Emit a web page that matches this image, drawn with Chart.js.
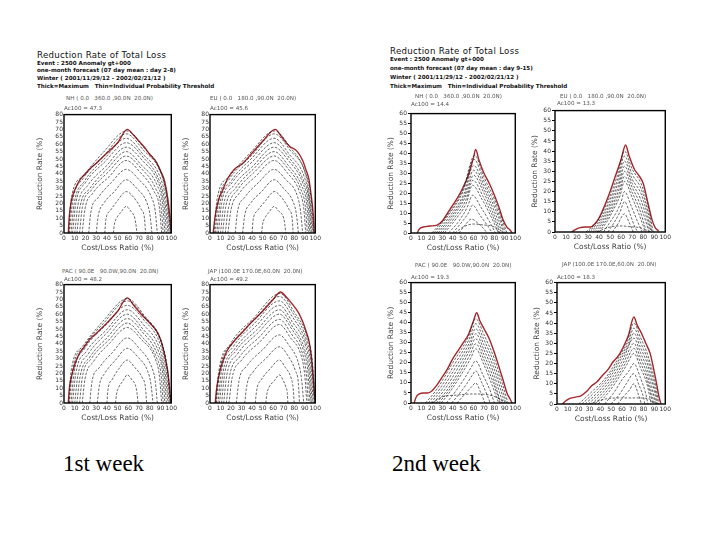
<!DOCTYPE html>
<html><head><meta charset="utf-8">
<script src="https://cdn.jsdelivr.net/npm/chart.js@4.4.1/dist/chart.umd.min.js"></script>
<style>
html,body{margin:0;padding:0;background:#fff;}
body{width:720px;height:540px;position:relative;overflow:hidden;font-family:'DejaVu Sans',sans-serif;}
.t{position:absolute;white-space:pre;line-height:1;transform:translateY(-50%);}
.h1{font-size:8.6px;color:#111;letter-spacing:0.3px;}
.h2{font-size:5.6px;font-weight:bold;color:#111;}
.pl{font-size:5.6px;color:#555;}
.wk{font-family:'Liberation Serif',serif;font-size:23px;color:#000;transform:none;}
canvas{position:absolute;}
</style></head><body>
<script>
// ---------- tick labels ----------
const xTicks = [0,10,20,30,40,50,60,70,80,90,100];
const yTicksWeek1 = [0,5,10,15,20,25,30,35,40,45,50,55,60,65,70,75,80];
const yTicksWeek2 = [0,5,10,15,20,25,30,35,40,45,50,55,60];

// ---------- week 1 : NH ----------
const nh1Max = [[4,0],[5,12],[7,22],[10,29],[15,36],[20,40],[25,44],[30,47],[40,54],[50,61],[59,70],[65,66],[70,62],[75,58],[80,53],[85,49],[90,42],[93,37],[95,31],[97,22],[99,9],[100,0]];
const nh1E1 = [[4.5,0],[6.5,22],[17,38],[36,54],[58.5,69],[74,58],[91,40],[96,24],[99.5,0]];
const nh1C1 = [[5,0],[8,21],[18,37],[37,52],[58,67],[74,56],[91,39],[96,23],[99,0]];
const nh1E2 = [[6.5,0],[9.5,20],[19,35],[37.5,50],[58,64],[74,53],[90,37],[95,22],[98,0]];
const nh1C2 = [[8,0],[11,20],[20,34],[38,48],[58,61],[74,51],[89,35],[94,21],[97,0]];
const nh1E3 = [[10,0],[13,19],[22,32],[39,45],[58,58],[73,49],[88,34],[93,20],[95.5,0]];
const nh1C3 = [[12,0],[15,18],[24,30],[40,43],[58,55],[72,46],[87,32],[92,19],[94,0]];
const nh1E4 = [[14.5,0],[17,17],[25.5,29],[41,41],[58,52],[71.5,44],[85.5,30],[90.5,18],[92.5,0]];
const nh1C4 = [[17,0],[19.5,16],[27,27],[42,38],[58,49],[71,41],[84,28],[89,17],[91,0]];
const nh1C5 = [[23,0],[25,14],[32,24],[44,34],[58,43],[70,36],[81,25],[85,15],[87,0]];
const nh1C6 = [[30,0],[32,12],[37,20],[47,28],[58,36],[68,30],[77,21],[80,13],[82,0]];
const nh1C7 = [[38,0],[39,9],[43,15],[50,22],[58,28],[65,24],[72,16],[75,10],[76,0]];
const nh1C8 = [[46,0],[47,6],[49,10],[53,14],[58,18],[62,15],[66,10],[67,6],[68,0]];

// ---------- week 1 : EU ----------
const eu1Max = [[3,0],[5,12],[8,22],[12,29],[17,37],[23,43],[31,47],[40,54],[50,62],[62,70],[68,65],[75,59],[83,55],[88,49],[91,43],[94,36],[96,26],[98,13],[99,0]];
const eu1E1 = [[4,0],[6.5,22],[18,38],[38,54],[61.5,69],[76,58],[91,40],[96,24],[98.5,0]];
const eu1C1 = [[5,0],[8,21],[19,37],[39,52],[61,67],[76,56],[91,39],[95,23],[98,0]];
const eu1E2 = [[6.5,0],[9.5,20],[20,35],[39,50],[61,64],[75.5,53],[90,37],[94.5,22],[97,0]];
const eu1C2 = [[8,0],[11,20],[21,34],[40,48],[61,61],[75,51],[89,35],[94,21],[96,0]];
const eu1E3 = [[10,0],[13,19],[22.5,32],[40.5,45],[61,58],[74.5,49],[88,34],[93,20],[95,0]];
const eu1C3 = [[12,0],[15,18],[24,30],[41,43],[61,55],[74,46],[87,32],[92,19],[94,0]];
const eu1E4 = [[14.5,0],[17.5,17],[26,29],[42,41],[61,52],[73.5,44],[86,30],[90.5,18],[92.5,0]];
const eu1C4 = [[17,0],[20,16],[28,27],[43,38],[61,49],[73,41],[85,28],[89,17],[91,0]];
const eu1C5 = [[24,0],[26,14],[33,24],[46,34],[61,43],[72,36],[83,25],[86,15],[88,0]];
const eu1C6 = [[31,0],[33,12],[38.5,20],[49,28],[61,36],[70,30],[79,21],[82,13],[84,0]];
const eu1C7 = [[40,0],[41,9],[45,15],[53,22],[61,28],[68,24],[75,16],[78,10],[79,0]];
const eu1C8 = [[49,0],[50,6],[52,10],[56,14],[61,18],[65,15],[70,10],[71,6],[72,0]];

// ---------- week 1 : PAC ----------
const pac1Max = [[4,0],[5,10],[7,18],[10,26],[14,33],[19,38],[24,43],[30,47],[40,54],[50,62],[59,71],[65,66],[72,60],[80,54],[86,49],[90,43],[93,35],[95,28],[97,20],[99,5],[99.5,0]];
const pac1E1 = [[4.5,0],[6.5,21],[17,38],[36,55],[59,70.5],[75,59],[91,41],[96,25],[99.5,0]];
const pac1C1 = [[5,0],[8,22],[18.5,38],[37,54],[59,69],[75,58],[91,40],[96,24],[99,0]];
const pac1E2 = [[6.5,0],[9.5,21],[19.5,37],[38,52],[59,66],[74.5,56],[90,39],[95,23],[98,0]];
const pac1C2 = [[8,0],[11,20],[21,35],[39,49],[59,63],[74,53],[89,37],[94,22],[97,0]];
const pac1E3 = [[10,0],[13,19],[22.5,33],[39.5,47],[59,60],[73.5,50],[88,35],[93,21],[95.5,0]];
const pac1C3 = [[12,0],[15,18],[24,31],[40,44],[59,57],[73,48],[87,33],[92,20],[94,0]];
const pac1E4 = [[14.5,0],[17,17],[25.5,30],[41,42],[59,54],[72.5,45],[86,31],[90.5,19],[92.5,0]];
const pac1C4 = [[17,0],[19.5,16],[27.5,28],[42,40],[59,51],[72,43],[85,30],[89,18],[91,0]];
const pac1C5 = [[24,0],[26,14],[33,24],[45,34],[59,44],[70,37],[81,25.5],[85,15],[87,0]];
const pac1C6 = [[31,0],[33,12],[38,20],[48,29],[59,37],[69,31],[78,21.5],[81,13],[83,0]];
const pac1C7 = [[40,0],[41,9],[45,16],[51,23],[59,29],[66,24],[73,17],[76,10],[77,0]];
const pac1C8 = [[48,0],[49,6],[51,10.5],[55,15],[59,19],[63,16],[67,11],[68,7],[69,0]];

// ---------- week 1 : JAP ----------
const jap1Max = [[5,0],[6,8],[8,17],[12,28],[16,35],[22,41],[31,48],[40,55],[50,62],[60,70],[67,75],[72,72],[78,67],[84,61],[88,55],[91,49],[94,42],[96,33],[98,18],[99,8],[100,0]];
const jap1E1 = [[5.5,0],[8,20],[19.5,40],[41,57],[66.5,74],[79.5,62],[93,43],[97.5,26],[99.5,0]];
const jap1C1 = [[6,0],[9.6,23],[21,40],[42,56],[66,72],[79,60.5],[92,42],[96.7,25],[99,0]];
const jap1E2 = [[7.5,0],[11,22],[22,38],[42.5,54],[66,69],[78.5,58],[91.5,40],[96,24],[98,0]];
const jap1C2 = [[9,0],[12.4,21],[23,36],[43,51.5],[66,66],[78,55],[91,38],[95,23],[97,0]];
const jap1E3 = [[11,0],[14,20],[24.5,35],[44,49],[66,63],[78,52],[90,36],[94,22],[96,0]];
const jap1C3 = [[13,0],[16,19],[26,33],[45,47],[66,60],[77.6,50],[89,35],[93,21],[95,0]];
const jap1E4 = [[15.5,0],[18.5,18],[28,31],[46,44],[66,56.5],[77,47],[88,33],[91.5,20],[93.5,0]];
const jap1C4 = [[18,0],[21,17],[30,29],[47,41],[66,53],[76,44.5],[87,31],[90,19],[92,0]];
const jap1C5 = [[25,0],[27.5,15],[35,25],[50,36],[66,46],[75,39],[84,27],[87,16],[89,0]];
const jap1C6 = [[33,0],[35,12],[41,21],[53,30],[66,38],[74,32],[81,22],[84,13],[85,0]];
const jap1C7 = [[43,0],[44.4,9],[49,16],[57,23],[66,29],[71.6,24],[77,17],[79,10],[80,0]];
const jap1C8 = [[53,0],[54,6],[56,10.5],[61,15],[66,19],[69,16],[72,11],[73.4,7],[74,0]];

// ---------- week 2 : NH ----------
const nh2Max = [[6,0],[8,2],[12,3],[18,3.5],[25,4],[30,6],[35,10],[40,14],[45,18],[50,23],[55,29],[60,38],[62,42],[65,37],[70,30],[75,25],[80,19],[85,12],[88,7],[92,3],[95,1.5],[97,0]];
const nh2C1 = [[20,0],[35,9],[50,22],[61,39],[70,28],[80,17],[90,3],[92,0]];
const nh2E1 = [[22,0],[36,9],[50,21],[60.5,37],[70,26],[80,15],[89,2.5],[90.5,0]];
const nh2C2 = [[24,0],[38,9],[51,20],[60,34],[70,24],[80,13],[88,2],[89,0]];
const nh2E2 = [[26,0],[39,8.5],[51.5,19],[60,31.5],[70,22],[79,12],[87,1.5],[88,0]];
const nh2C3 = [[28,0],[40,8],[52,18],[60,29],[70,20],[78,11],[86,1],[87,0]];
const nh2E3 = [[30,0],[41.5,7.5],[52.5,16.5],[59.5,26.5],[69,18.5],[77.5,9.5],[85.5,0]];
const nh2C4 = [[32,0],[43,7],[53,15],[59,24],[68,17],[77,8],[84,0]];
const nh2C5 = [[36,0],[46,6],[54,13],[59,19],[67,13],[75,6],[81,0]];
const nh2C6 = [[40,0],[48,5],[55,10],[59,14],[66,9],[73,4],[78,0]];
const nh2C7 = [[42,0],[50,3],[60,4.5],[70,4],[80,3],[85,0]];
const nh2C8 = [[46,0],[52,4],[58,7],[64,5],[70,2],[73,0]];

// ---------- week 2 : EU ----------
const eu2Max = [[15,0],[18,1],[22,2],[27,2.5],[32,2.5],[36,4],[40,7],[45,13],[50,20],[55,28],[60,36],[64,43],[67,38],[72,31],[76,28],[80,24],[84,15],[88,6],[91,2],[94,0.5]];
const eu2C1 = [[28,0],[38,5],[47,14],[56,27],[63,40],[70,31],[78,24],[85,11],[89,0]];
const eu2E1 = [[30,0],[39.5,5],[48,13.5],[56.5,25.5],[63,37.5],[70,28.5],[78,21.5],[84.5,9.5],[88,0]];
const eu2C2 = [[32,0],[41,5],[49,13],[57,24],[63,35],[70,26],[78,19],[84,8],[87,0]];
const eu2E2 = [[34,0],[42.5,5],[50,12.5],[57.5,22.5],[63,32.5],[70,24],[77.5,16.5],[83.5,6],[86,0]];
const eu2C3 = [[36,0],[44,5],[51,12],[58,21],[63,30],[70,22],[77,14],[83,4],[85,0]];
const eu2E3 = [[38,0],[45.5,5],[52,11.5],[58.5,19.5],[63,27.5],[70,19.5],[76.5,11.5],[83,0]];
const eu2C4 = [[40,0],[47,5],[53,11],[59,18],[63,25],[70,17],[76,9],[82,0]];
const eu2C5 = [[44,0],[50,5],[56,10],[60,15],[63,20],[69,13],[75,5],[79,0]];
const eu2C6 = [[48,0],[54,5],[59,10],[63,15],[68,9],[72,3],[75,0]];
const eu2C7 = [[38,0],[50,2.5],[60,3],[70,2.5],[78,2],[82,0]];
const eu2C8 = [[52,0],[57,4],[63,9],[67,5],[71,0]];

// ---------- week 2 : PAC ----------
const pac2Max = [[3,0],[5,3],[8,4.5],[12,5],[16,5],[20,6],[25,9],[30,13],[35,17],[40,22],[45,26],[50,30],[55,34],[60,41],[63,45],[66,41],[70,37],[75,32],[80,25],[85,17],[88,12],[92,5],[95,2],[97,0]];
const pac2C1 = [[14,0],[25,7],[40,20],[55,33],[62,42],[70,34],[80,22],[88,9],[93,0]];
const pac2E1 = [[16.5,0],[27.5,7],[41.5,19],[55.5,31.5],[62,39.5],[70,31.5],[79.5,20],[87.5,7],[91.5,0]];
const pac2C2 = [[19,0],[30,7],[43,18],[56,30],[62,37],[70,29],[79,18],[87,5],[90,0]];
const pac2E2 = [[21.5,0],[32,6.5],[44.5,17],[56,28],[62,34.5],[70,26.5],[78.5,16],[86,3.5],[88.5,0]];
const pac2C3 = [[24,0],[34,6],[46,16],[56,26],[62,32],[70,24],[78,14],[85,2],[87,0]];
const pac2E3 = [[26.5,0],[36,6],[47,15],[56.5,24],[62,29.5],[70,21.5],[77.5,12],[85.5,0]];
const pac2C4 = [[29,0],[38,6],[48,14],[57,22],[62,27],[70,19],[77,10],[84,0]];
const pac2C5 = [[34,0],[43,6],[51,12],[58,18],[62,21],[69,14],[76,6],[80,0]];
const pac2C6 = [[39,0],[47,5],[54,10],[59,14],[62,16],[68,10],[73,4],[76,0]];
const pac2C7 = [[20,0],[30,3],[45,4],[60,4.5],[75,4],[85,2],[90,0]];
const pac2C8 = [[44,0],[51,4],[58,8],[62,10],[67,5],[71,0]];

// ---------- week 2 : JAP ----------
const jap2Max = [[5,0],[8,1.5],[12,2.8],[18,3.5],[22,4],[27,6],[32,9],[37,11],[41,13.5],[47,17],[52,21],[57,24],[62,29],[66,34],[71,43],[74,39],[78,35],[82,30],[86,25],[89,18],[92,10],[94,4],[96,0]];
const jap2C1 = [[20,0],[32,6],[45,13],[57,23],[65,31],[71,40],[77,33],[84,24],[90,12],[94,0]];
const jap2E1 = [[23,0],[35,6],[47.5,13.5],[58.5,23],[65.5,30],[71,37.5],[77,30.5],[84,21.5],[90,9],[93,0]];
const jap2C2 = [[26,0],[38,6],[50,14],[60,23],[66,29],[71,35],[77,28],[84,19],[90,6],[92,0]];
const jap2E2 = [[29,0],[40.5,6],[51.5,13.5],[61,22],[71,32.5],[77,25.5],[83.5,17],[89,5],[91,0]];
const jap2C3 = [[32,0],[43,6],[53,13],[62,21],[71,30],[77,23],[83,15],[88,4],[90,0]];
const jap2E3 = [[35,0],[45.5,6],[55,13],[63,20],[71,27.5],[77,20.5],[83,12.5],[88.5,0]];
const jap2C4 = [[38,0],[48,6],[57,13],[64,19],[71,25],[77,18],[83,10],[87,0]];
const jap2C5 = [[44,0],[53,6],[60,12],[66,16],[71,20],[77,13],[82,5],[84,0]];
const jap2C6 = [[50,0],[58,5],[64,10],[71,15],[76,9],[80,3],[81,0]];
const jap2C7 = [[30,0],[45,2.5],[60,3],[75,3],[85,2.5],[90,0]];
const jap2C8 = [[56,0],[62,4],[67,7],[71,10],[75,5],[78,0]];

// ---------- texts ----------
const headerLeft = ["Reduction Rate of Total Loss","Event : 2500 Anomaly gt+000","one-month forecast (07 day mean : day 2-8)","Winter ( 2001/11/29/12 - 2002/02/21/12 )","Thick=Maximum   Thin=Individual Probability Threshold"];
const headerRight = ["Reduction Rate of Total Loss","Event : 2500 Anomaly gt+000","one-month forecast (07 day mean : day 9-15)","Winter ( 2001/11/29/12 - 2002/02/21/12 )","Thick=Maximum   Thin=Individual Probability Threshold"];
const regionNames = ["NH ( 0.0   360.0 ,90.0N  20.0N)","EU ( 0.0   180.0 ,90.0N  20.0N)","PAC ( 90.0E   90.0W,90.0N  20.0N)","JAP (100.0E 170.0E,60.0N  20.0N)"];
const acWeek1 = ["Ac100 = 47.3","Ac100 = 45.6","Ac100 = 48.2","Ac100 = 49.2"];
const acWeek2 = ["Ac100 = 14.4","Ac100 = 13.3","Ac100 = 19.3","Ac100 = 18.3"];
const weekLabels = ["1st week","2nd week"];

// ---------- layout (not data) ----------
function txt(s, cls, x, y){const d=document.createElement('div');d.className='t '+cls;d.textContent=s;d.style.left=x+'px';d.style.top=y+'px';document.body.appendChild(d);}
[[37,55],[37,64],[37,71],[37,79],[37,87]].forEach((p,i)=>txt(headerLeft[i], i?'h2':'h1', p[0], p[1]));
[[390,51],[390,60],[390,69],[390,78],[390,87]].forEach((p,i)=>txt(headerRight[i], i?'h2':'h1', p[0], p[1]));

const panels = [
 {rect:[64,114,109,119], ymax:80, yt:yTicksWeek1, env:nh1Max, thin:[nh1E1,nh1C1,nh1E2,nh1C2,nh1E3,nh1C3,nh1E4,nh1C4,nh1C5,nh1C6,nh1C7,nh1C8], name:regionNames[0], ac:acWeek1[0], nl:[66,99], al:[64,109], w2:false},
 {rect:[210,114,107,119], ymax:80, yt:yTicksWeek1, env:eu1Max, thin:[eu1E1,eu1C1,eu1E2,eu1C2,eu1E3,eu1C3,eu1E4,eu1C4,eu1C5,eu1C6,eu1C7,eu1C8], name:regionNames[1], ac:acWeek1[1], nl:[210,99], al:[210,109], w2:false},
 {rect:[64,284,109,119], ymax:80, yt:yTicksWeek1, env:pac1Max, thin:[pac1E1,pac1C1,pac1E2,pac1C2,pac1E3,pac1C3,pac1E4,pac1C4,pac1C5,pac1C6,pac1C7,pac1C8], name:regionNames[2], ac:acWeek1[2], nl:[62,272], al:[64,280], w2:false},
 {rect:[210,284,107,119], ymax:80, yt:yTicksWeek1, env:jap1Max, thin:[jap1E1,jap1C1,jap1E2,jap1C2,jap1E3,jap1C3,jap1E4,jap1C4,jap1C5,jap1C6,jap1C7,jap1C8], name:regionNames[3], ac:acWeek1[3], nl:[208,272], al:[210,280], w2:false},
 {rect:[411,113,106,120], ymax:60, yt:yTicksWeek2, env:nh2Max, thin:[nh2C1,nh2E1,nh2C2,nh2E2,nh2C3,nh2E3,nh2C4,nh2C5,nh2C6,nh2C7,nh2C8], name:regionNames[0], ac:acWeek2[0], nl:[415,97], al:[411,105], w2:true},
 {rect:[555,110,112,122], ymax:60, yt:yTicksWeek2, env:eu2Max, thin:[eu2C1,eu2E1,eu2C2,eu2E2,eu2C3,eu2E3,eu2C4,eu2C5,eu2C6,eu2C7,eu2C8], name:regionNames[1], ac:acWeek2[1], nl:[560,97], al:[557,104], w2:true},
 {rect:[411,282,106,121], ymax:60, yt:yTicksWeek2, env:pac2Max, thin:[pac2C1,pac2E1,pac2C2,pac2E2,pac2C3,pac2E3,pac2C4,pac2C5,pac2C6,pac2C7,pac2C8], name:regionNames[2], ac:acWeek2[2], nl:[415,266], al:[411,278], w2:true},
 {rect:[557,282,110,122], ymax:60, yt:yTicksWeek2, env:jap2Max, thin:[jap2C1,jap2E1,jap2C2,jap2E2,jap2C3,jap2E3,jap2C4,jap2C5,jap2C6,jap2C7,jap2C8], name:regionNames[3], ac:acWeek2[3], nl:[562,265], al:[557,278], w2:true}
];

const framePlugin = {id:'frame', afterDraw(chart){const a=chart.chartArea,c=chart.ctx;c.save();c.strokeStyle='#000';c.lineWidth=1.4;c.strokeRect(a.left,a.top,a.right-a.left,a.bottom-a.top);c.restore();}};
const toXY = arr => arr.map(p=>({x:p[0],y:p[1]}));

panels.forEach(p=>{
  const [l,t,w,h]=p.rect;
  const yw = p.w2?24:28, xh=22, padT=4, padR=6;
  const cv=document.createElement('canvas');
  const cw=w+yw+padR, ch=h+padT+xh;
  cv.width=cw; cv.height=ch; cv.style.left=(l-yw)+'px'; cv.style.top=(t-padT)+'px';
  cv.style.width=cw+'px'; cv.style.height=ch+'px';
  document.body.appendChild(cv);
  txt(p.name,'pl',p.nl[0],p.nl[1]);
  txt(p.ac,'pl',p.al[0],p.al[1]);
  const ds = p.thin.map(c=>({data:toXY(c), borderColor:'rgba(20,20,20,0.72)', borderWidth:0.9, borderDash:[2.5,1.5], pointRadius:0, showLine:true, cubicInterpolationMode:'monotone'}));
  ds.push({data:toXY(p.env), borderColor:'#a3262b', borderWidth:1.4, pointRadius:0, showLine:true, cubicInterpolationMode:'monotone'});
  const tickFont={family:'DejaVu Sans', size:6};
  new Chart(cv,{type:'scatter', data:{datasets:ds}, plugins:[framePlugin],
    options:{responsive:false, animation:false, events:[], devicePixelRatio:1,
      layout:{padding:{left:0,right:padR,top:padT,bottom:0}},
      plugins:{legend:{display:false}, tooltip:{enabled:false}},
      scales:{
        x:{type:'linear', min:0, max:100, afterFit:s=>{s.height=xh;},
           afterBuildTicks:s=>{s.ticks=xTicks.map(v=>({value:v}));},
           grid:{display:false, drawTicks:false}, border:{display:false},
           ticks:{autoSkip:false, maxRotation:0, minRotation:0, padding:2, font:tickFont, color:'#333'},
           title:{display:true, text:'Cost/Loss Ratio (%)', font:{family:'DejaVu Sans', size:7.5}, color:'#444', padding:{top:0,bottom:2}}},
        y:{type:'linear', min:0, max:p.ymax, afterFit:s=>{s.width=yw;},
           afterBuildTicks:s=>{s.ticks=p.yt.map(v=>({value:v}));},
           grid:{display:p.w2, drawOnChartArea:false, drawTicks:p.w2, tickLength:3, color:'#000'}, border:{display:false},
           ticks:{autoSkip:false, padding:1, font:tickFont, color:'#333'},
           title:{display:true, text:'Reduction Rate (%)', font:{family:'DejaVu Sans', size:7.5}, color:'#444', padding:{top:0,bottom:1}}}
      }}});
});

const wl=[[63,452],[392,452]];
weekLabels.forEach((s,i)=>txt(s,'wk',wl[i][0],wl[i][1]));
</script>
</body></html>
